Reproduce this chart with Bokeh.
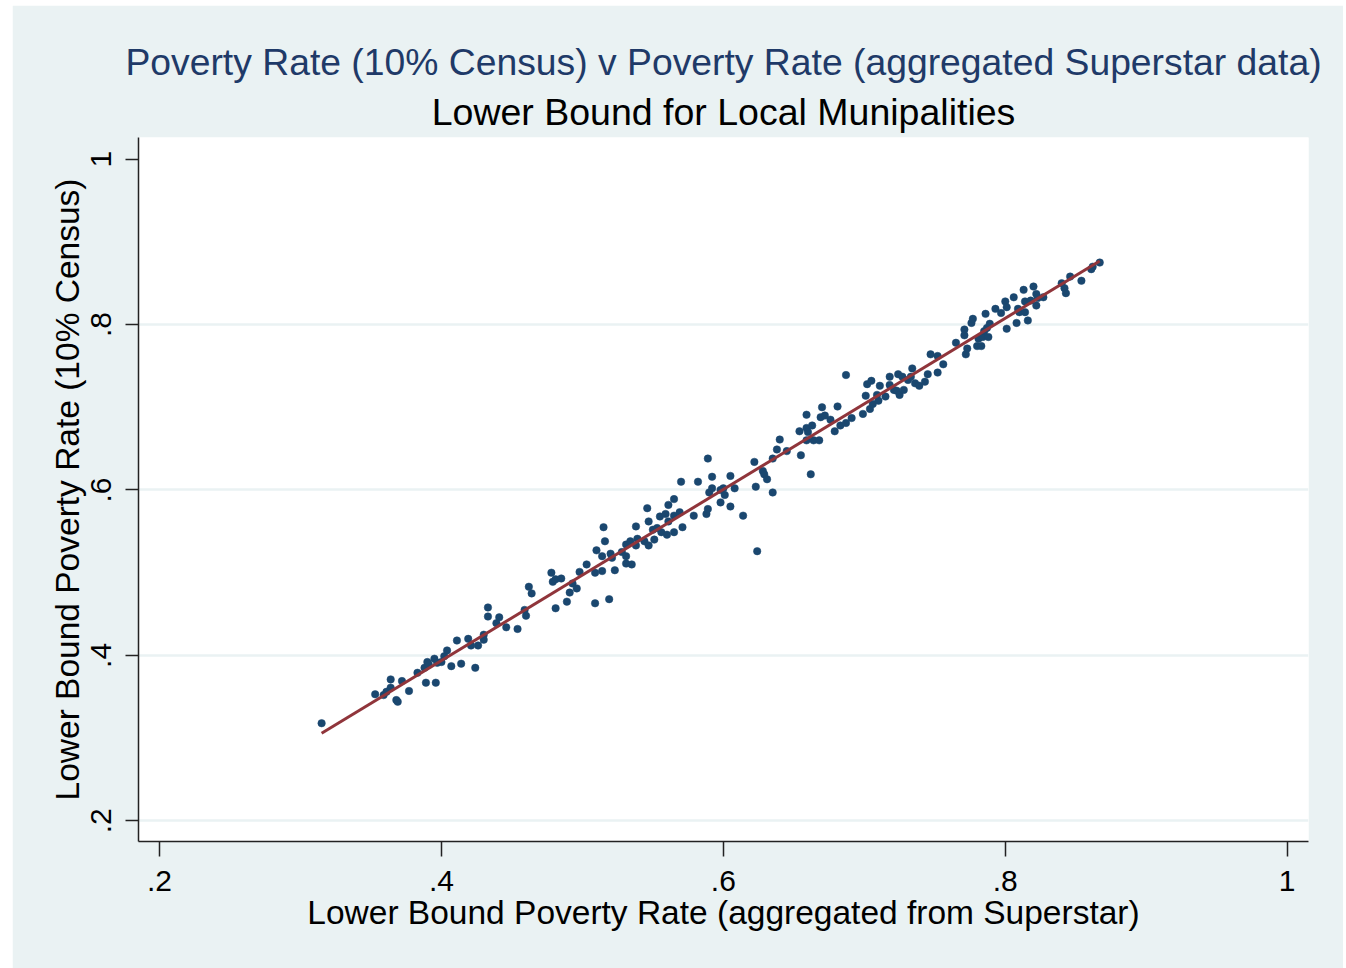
import numpy as np
from bokeh.plotting import figure
from bokeh.models import Title, FixedTicker
from bokeh.embed import file_html
from bokeh.resources import INLINE

# Lower bound poverty rate (aggregated from Superstar)
x_superstar = [
    0.315, 0.353, 0.359, 0.361, 0.364, 0.364, 0.372, 0.368, 0.369, 0.377,
    0.383, 0.389, 0.390, 0.388, 0.391, 0.395, 0.396, 0.397, 0.400, 0.402,
    0.404, 0.407, 0.411, 0.414, 0.419, 0.421, 0.424, 0.426, 0.430, 0.430,
    0.433, 0.433, 0.439, 0.441, 0.446, 0.454, 0.459, 0.460, 0.462, 0.464,
    0.478, 0.479, 0.481, 0.485, 0.481, 0.489, 0.491, 0.493, 0.496, 0.498,
    0.503, 0.509, 0.509, 0.510, 0.514, 0.514, 0.515, 0.516, 0.519, 0.520,
    0.521, 0.523, 0.528, 0.531, 0.531, 0.531, 0.534, 0.535, 0.538, 0.539,
    0.538, 0.544, 0.546, 0.547, 0.547, 0.550, 0.551, 0.553, 0.555, 0.556,
    0.559, 0.560, 0.561, 0.561, 0.565, 0.565, 0.565, 0.569, 0.570, 0.571,
    0.579, 0.582, 0.588, 0.589, 0.589, 0.590, 0.592, 0.592, 0.598, 0.598,
    0.600, 0.601, 0.605, 0.605, 0.608, 0.614, 0.622, 0.623, 0.624, 0.628,
    0.629, 0.631, 0.635, 0.635, 0.638, 0.640, 0.645, 0.654, 0.655, 0.659,
    0.659, 0.659, 0.660, 0.662, 0.663, 0.664, 0.668, 0.669, 0.670, 0.672,
    0.676, 0.679, 0.681, 0.683, 0.687, 0.687, 0.691, 0.699, 0.701, 0.702,
    0.704, 0.705, 0.706, 0.709, 0.710, 0.711, 0.715, 0.718, 0.718, 0.721,
    0.723, 0.724, 0.725, 0.727, 0.728, 0.731, 0.733, 0.734, 0.736, 0.739,
    0.743, 0.745, 0.747, 0.752, 0.752, 0.756, 0.765, 0.772, 0.773, 0.771,
    0.771, 0.776, 0.777, 0.780, 0.783, 0.781, 0.784, 0.785, 0.787, 0.788,
    0.789, 0.786, 0.793, 0.797, 0.800, 0.801, 0.801, 0.806, 0.808, 0.809,
    0.810, 0.813, 0.814, 0.814, 0.816, 0.818, 0.820, 0.822, 0.822, 0.823,
    0.827, 0.840, 0.842, 0.843, 0.846, 0.854, 0.861, 0.862, 0.867,
]

# Lower bound poverty rate (10% Census)
y_census = [
    0.318, 0.353, 0.352, 0.356, 0.361, 0.371, 0.369, 0.346, 0.344, 0.357,
    0.379, 0.367, 0.392, 0.385, 0.389, 0.396, 0.367, 0.391, 0.392, 0.399,
    0.406, 0.387, 0.418, 0.390, 0.420, 0.412, 0.385, 0.412, 0.419, 0.425,
    0.458, 0.447, 0.439, 0.446, 0.434, 0.432, 0.455, 0.448, 0.483, 0.475,
    0.500, 0.489, 0.492, 0.493, 0.457, 0.465, 0.476, 0.487, 0.481, 0.501,
    0.510, 0.500, 0.463, 0.527, 0.520, 0.502, 0.555, 0.538, 0.468, 0.523,
    0.518, 0.503, 0.525, 0.520, 0.511, 0.534, 0.538, 0.510, 0.556, 0.541,
    0.533, 0.538, 0.578, 0.562, 0.533, 0.552, 0.540, 0.554, 0.568, 0.549,
    0.571, 0.546, 0.562, 0.582, 0.549, 0.589, 0.569, 0.573, 0.610, 0.555,
    0.569, 0.610, 0.571, 0.577, 0.638, 0.597, 0.616, 0.602, 0.585, 0.600,
    0.602, 0.594, 0.617, 0.580, 0.602, 0.569, 0.634, 0.604, 0.526, 0.623,
    0.619, 0.613, 0.597, 0.638, 0.649, 0.661, 0.647, 0.671, 0.642, 0.660,
    0.691, 0.675, 0.670, 0.619, 0.678, 0.660, 0.660, 0.688, 0.700, 0.690,
    0.685, 0.671, 0.701, 0.678, 0.681, 0.739, 0.687, 0.692, 0.714, 0.728,
    0.698, 0.732, 0.704, 0.715, 0.708, 0.726, 0.713, 0.737, 0.727, 0.721,
    0.720, 0.740, 0.715, 0.737, 0.721, 0.733, 0.737, 0.747, 0.729, 0.726,
    0.731, 0.740, 0.764, 0.762, 0.742, 0.752, 0.778, 0.764, 0.771, 0.787,
    0.794, 0.802, 0.807, 0.774, 0.774, 0.783, 0.785, 0.792, 0.796, 0.785,
    0.801, 0.813, 0.819, 0.814, 0.828, 0.795, 0.821, 0.833, 0.802, 0.819,
    0.815, 0.842, 0.815, 0.828, 0.805, 0.829, 0.846, 0.837, 0.823, 0.832,
    0.833, 0.850, 0.844, 0.838, 0.858, 0.853, 0.867, 0.870, 0.875,
]

tick_values = [0.2, 0.4, 0.6, 0.8, 1.0]
tick_labels = [".2", ".4", ".6", ".8", "1"]
grid_values = [0.2, 0.4, 0.6, 0.8]

title_text = "Poverty Rate (10% Census) v Poverty Rate (aggregated Superstar data)"
subtitle_text = "Lower Bound for Local Munipalities"
x_label = "Lower Bound Poverty Rate (aggregated from Superstar)"
y_label = "Lower Bound Poverty Rate (10% Census)"

BG = "#EAF2F3"
NAVY = "#1A476F"
MAROON = "#90353B"
FONT = "Liberation Sans"

p = figure(
    width=1331, height=963, margin=(5, 0, 0, 12),
    x_range=(0.1851, 1.0151), y_range=(0.175, 1.0262),
    output_backend="svg", toolbar_location=None, tools="",
    title=None,
    min_border_left=126, min_border_right=35,
    min_border_top=132, min_border_bottom=127,
    background_fill_color="white", border_fill_color=BG,
    outline_line_color=None,
)

# titles: the first added sits closest to the plot region
p.add_layout(Title(text=subtitle_text, align="center", text_font=FONT,
                   text_font_size="37.5px", text_font_style="normal",
                   text_color="black", standoff=9), "above")
p.add_layout(Title(text=title_text, align="center", text_font=FONT,
                   text_font_size="37.3px", text_font_style="normal",
                   text_color="#1F3A68", standoff=4), "above")

# grid
p.xgrid.visible = False
p.ygrid.ticker = FixedTicker(ticks=grid_values)
p.ygrid.grid_line_color = BG
p.ygrid.grid_line_width = 2.5

# axes
for ax in (p.xaxis[0], p.yaxis[0]):
    ax.ticker = FixedTicker(ticks=tick_values)
    ax.major_label_overrides = {v: s for v, s in zip(tick_values, tick_labels)}
    ax.axis_line_color = "#222222"
    ax.axis_line_width = 1.5
    ax.major_tick_line_color = "#222222"
    ax.major_tick_line_width = 1.5
    ax.major_tick_in = 0
    ax.minor_tick_line_color = None
    ax.major_label_text_font = FONT
    ax.major_label_text_font_size = "30px"
    ax.major_label_text_color = "black"
    ax.axis_label_text_font = FONT
    ax.axis_label_text_font_size = "33.5px"
    ax.axis_label_text_font_style = "normal"
    ax.axis_label_text_color = "black"

p.xaxis.axis_label = x_label
p.yaxis.axis_label = y_label
p.xaxis.major_tick_out = 15
p.yaxis.major_tick_out = 13
p.xaxis.major_label_standoff = 14
p.yaxis.major_label_standoff = 14
p.yaxis.major_label_orientation = "vertical"
p.xaxis.axis_label_standoff = 0
p.yaxis.axis_label_standoff = 3

# scatter
p.scatter(x_superstar, y_census, size=7.5, marker="circle",
          fill_color=NAVY, line_color=NAVY, line_width=0.5)

# linear fit (lfit)
xs = np.array(x_superstar)
ys = np.array(y_census)
b, a = np.polyfit(xs, ys, 1)
fx = np.array([xs.min(), xs.max()])
p.line(fx, a + b * fx, line_color=MAROON, line_width=3)

open("out.html", "w").write(file_html(p, INLINE))
